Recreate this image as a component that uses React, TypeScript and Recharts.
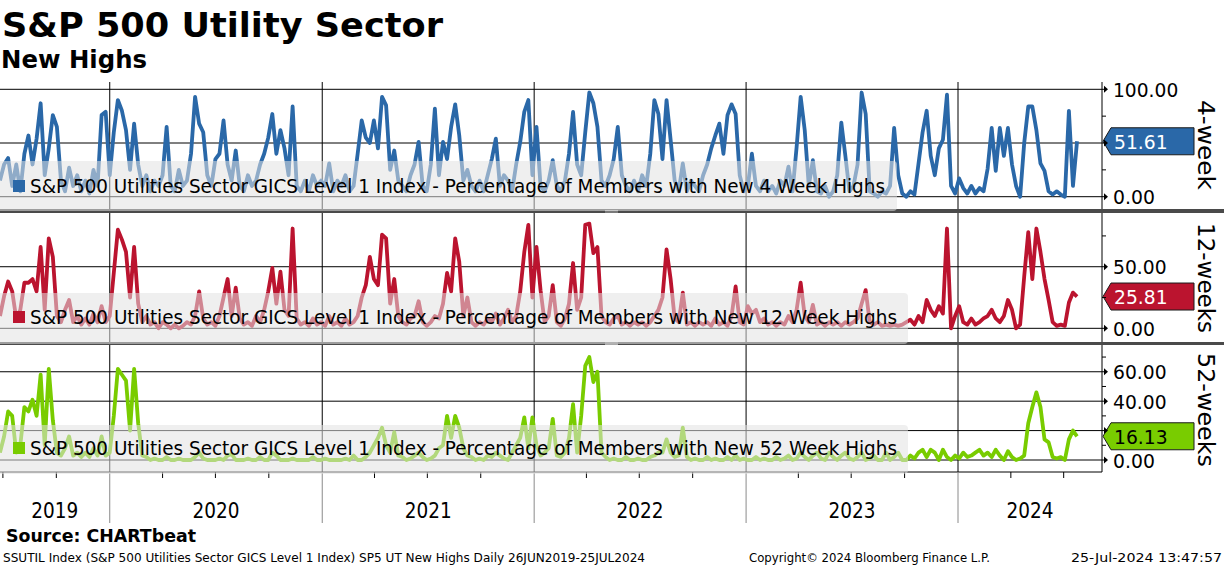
import React from "react";
import { LineChart, Line, XAxis, YAxis, ReferenceLine, ReferenceDot } from "recharts";

// weekly samples starting 26JUN2019, last point = 25JUL2024
const START_DATE = "2019-06-26";
const END_DATE = "2024-09-05"; // right edge of the time axis

const yearStarts = ["2020-01-01", "2021-01-01", "2022-01-01", "2023-01-01", "2024-01-01"];
const yearLabels = ["2019", "2020", "2021", "2022", "2023", "2024"];
const quarterStarts = [
  "2019-07-01", "2019-10-01", "2020-01-01", "2020-04-01", "2020-07-01", "2020-10-01",
  "2021-01-01", "2021-04-01", "2021-07-01", "2021-10-01", "2022-01-01", "2022-04-01",
  "2022-07-01", "2022-10-01", "2023-01-01", "2023-04-01", "2023-07-01", "2023-10-01",
  "2024-01-01", "2024-04-01", "2024-07-01",
];

const highs4w = [
  15, 30, 36, 10, 30, 5, 40, 57, 30, 54,
  87, 20, 45, 76, 65, 15, 5, 27, 10, 20,
  5, 15, 3, 25, 10, 76, 79, 20, 60, 90,
  80, 62, 25, 68, 30, 10, 20, 5, 15, 10,
  20, 65, 10, 5, 25, 10, 15, 40, 93, 68,
  60, 20, 10, 35, 40, 71, 30, 15, 43, 10,
  5, 20, 10, 15, 30, 40, 55, 77, 40, 62,
  45, 20, 84, 10, 5, 15, 5, 20, 10, 15,
  10, 31, 5, 15, 10, 20, 5, 10, 40, 71,
  55, 50, 71, 45, 93, 85, 25, 43, 15, 10,
  5, 20, 30, 51, 10, 5, 30, 82, 20, 51,
  35, 65, 86, 57, 15, 25, 10, 5, 15, 5,
  20, 35, 54, 10, 20, 15, 5, 30, 51, 79,
  90, 20, 65, 10, 5, 15, 34, 10, 5, 15,
  40, 79, 30, 20, 60, 97, 87, 65, 15, 10,
  20, 35, 65, 20, 10, 5, 15, 5, 20, 10,
  40, 90, 77, 35, 90, 53, 15, 5, 31, 5,
  15, 10, 5, 20, 30, 45, 57, 68, 40, 76,
  86, 77, 20, 5, 10, 40, 10, 5, 15, 5,
  10, 3, 15, 10, 28, 5, 46, 93, 62, 10,
  34, 5, 3, 10, 0, 5, 20, 69, 38, 5,
  10, 30, 97, 77, 5, 3, 0, 5, 3, 10,
  64, 20, 3, 0, 5, 2, 31, 60, 80, 38,
  20, 45, 53, 95, 10, 3, 17, 8, 3, 10,
  3, 8, 5, 26, 64, 24, 64, 38, 64, 30,
  10, 0, 50, 84, 84, 62, 31, 24, 5, 2,
  5, 2, 0, 80, 10, 51.61,
];

const highs12w = [
  10, 26, 38, 30, 8, 15, 37, 37, 40, 30,
  66, 15, 73, 58, 10, 5, 15, 23, 5, 10,
  3, 8, 3, 12, 5, 18, 5, 10, 45, 80,
  72, 62, 25, 66, 20, 5, 10, 3, 5, 0,
  5, 3, 0, 3, 0, 2, 5, 3, 10, 30,
  8, 3, 5, 2, 10, 25, 40, 10, 33, 8,
  3, 5, 2, 10, 5, 15, 30, 49, 20, 46,
  15, 10, 81, 8, 3, 5, 2, 8, 3, 5,
  2, 10, 3, 5, 2, 8, 3, 5, 10, 25,
  35, 58, 40, 35, 76, 73, 20, 40, 10, 5,
  3, 8, 10, 22, 5, 2, 5, 10, 8, 20,
  45, 30, 73, 54, 10, 25, 5, 2, 5, 3,
  8, 5, 12, 3, 8, 15, 5, 10, 30, 62,
  84, 25, 66, 31, 5, 10, 35, 5, 2, 8,
  20, 53, 15, 25, 84, 85, 61, 66, 10, 5,
  3, 8, 10, 3, 5, 2, 5, 3, 5, 2,
  5, 10, 15, 25, 64, 40, 8, 5, 29, 3,
  5, 2, 5, 3, 5, 2, 8, 3, 5, 2,
  10, 34, 5, 3, 18, 12, 15, 5, 8, 3,
  5, 2, 5, 3, 10, 5, 15, 37, 10, 5,
  19, 3, 5, 2, 5, 3, 5, 2, 5, 3,
  5, 8, 20, 31, 5, 3, 5, 2, 3, 2,
  3, 2, 3, 5, 7, 3, 10, 5, 23, 15,
  10, 18, 12, 81, 0, 10, 18, 5, 3, 8,
  3, 5, 8, 10, 15, 8, 5, 10, 23, 15,
  0, 3, 42, 78, 40, 81, 62, 40, 23, 5,
  2, 3, 2, 21, 29, 25.81,
];

const highs52w = [
  5, 16, 33, 30, 5, 10, 36, 33, 41, 30,
  58, 10, 62, 27, 5, 3, 8, 16, 3, 5,
  2, 5, 2, 8, 3, 16, 3, 5, 30, 62,
  58, 54, 20, 62, 25, 3, 2, 0, 1, 0,
  0, 2, 0, 0, 1, 0, 0, 0, 2, 5,
  1, 0, 0, 0, 1, 0, 3, 4, 0, 0,
  0, 1, 0, 0, 2, 0, 0, 5, 3, 0,
  0, 0, 1, 0, 0, 0, 0, 2, 0, 0,
  1, 0, 0, 0, 0, 1, 0, 3, 0, 0,
  2, 5, 10, 15, 22, 10, 5, 19, 3, 2,
  0, 1, 3, 5, 2, 0, 1, 3, 8, 10,
  30, 15, 30, 22, 8, 3, 2, 0, 1, 0,
  3, 2, 5, 3, 1, 0, 5, 10, 15, 29,
  8, 29, 10, 3, 5, 8, 28, 3, 2, 5,
  15, 38, 5, 30, 64, 70, 53, 60, 5, 2,
  0, 1, 0, 0, 2, 0, 0, 1, 0, 0,
  2, 3, 5, 5, 14, 5, 2, 3, 22, 2,
  0, 1, 0, 0, 2, 0, 1, 0, 0, 2,
  0, 3, 0, 1, 0, 0, 2, 0, 1, 0,
  0, 2, 0, 1, 3, 0, 1, 5, 2, 0,
  3, 5, 1, 0, 5, 2, 0, 3, 5, 1,
  0, 2, 5, 0, 1, 3, 0, 0, 5, 0,
  2, 5, 0, 0, 3, 1, 5, 7, 2, 7,
  5, 0, 7, 2, 0, 3, 1, 5, 2, 3,
  5, 7, 3, 5, 2, 7, 3, 0, 6, 2,
  0, 1, 3, 25, 36, 46, 36, 14, 12, 2,
  1, 2, 0, 14, 20, 16.13,
];

const toWeek = (d: string) => (Date.parse(d) - Date.parse(START_DATE)) / (7 * 86400000);
const X_MAX = toWeek(END_DATE);
const yearStartWeeks = yearStarts.map(toWeek);
const quarterWeeks = quarterStarts.map(toWeek);
const bounds = [0, ...yearStartWeeks, X_MAX];
const labelWeeks = yearLabels.map((_, i) => (bounds[i] + bounds[i + 1]) / 2);

const data = highs4w.map((v, i) => ({ w: i, v4: v, v12: highs12w[i], v52: highs52w[i] }));

const FONT = "'DejaVu Sans', Verdana, sans-serif";

const numWidth = (s: string) => {
  let w = 0;
  for (const c of s) w += c === "." ? 6.8 : 11.7;
  return w;
};

const panels = [
  {
    key: "v4", series: highs4w, color: "#2a68a8", textColor: "#fff",
    top: 82, height: 127, domain: [-11.45, 106.8],
    ticks: [0, 25, 50, 75, 100], arrows: [0, 50, 100], labels: [0, 100],
    side: "4-week", sideY: 100, sideLen: 90,
    legend: "S&P 500 Utilities Sector GICS Level 1 Index - Percentage of Members with New 4 Week Highs",
    legendW: 855, boxTop: 161, boxRight: 897, legendBase: 193,
  },
  {
    key: "v12", series: highs12w, color: "#bb142f", textColor: "#fff",
    top: 213, height: 129, domain: [-11.1, 93.6],
    ticks: [0, 25, 50, 75], arrows: [0, 50], labels: [0, 50],
    side: "12-weeks", sideY: 223, sideLen: 110,
    legend: "S&P 500 Utilities Sector GICS Level 1 Index - Percentage of Members with New 12 Week Highs",
    legendW: 867, boxTop: 293, boxRight: 908, legendBase: 324,
  },
  {
    key: "v52", series: highs52w, color: "#79cc00", textColor: "#000",
    top: 345, height: 127, domain: [-8.16, 78.2],
    ticks: [0, 10, 20, 30, 40, 50, 60, 70], arrows: [0, 20, 40, 60], labels: [0, 40, 60],
    side: "52-weeks", sideY: 353, sideLen: 114,
    legend: "S&P 500 Utilities Sector GICS Level 1 Index - Percentage of Members with New 52 Week Highs",
    legendW: 867, boxTop: 425, boxRight: 908, legendBase: 455,
  },
];

const AXIS_H = 52;
const PAD_TOP = 12; // room above each pane so the top tick label is not clipped

function makeYTick(arrows: number[], labels: number[]) {
  return (props: any) => {
    const { x, y, payload } = props;
    const v = payload.value;
    if (arrows.includes(v)) {
      const txt = v.toFixed(2);
      return (
        <g>
          <line x1={x} x2={x + 4} y1={y} y2={y} stroke="#000" />
          <polygon points={`${x + 2},${y - 3.5} ${x + 6},${y} ${x + 2},${y + 3.5}`} fill="#000" />
          {labels.includes(v) && (
            <text x={x + 11} y={y + 7.5} fontSize={20} fontFamily={FONT} fill="#000"
              textLength={numWidth(txt)} lengthAdjust="spacingAndGlyphs">{txt}</text>
          )}
        </g>
      );
    }
    return <line x1={x} x2={x + 4} y1={y} y2={y} stroke="#000" />;
  };
}

const near = (arr: number[], v: number) => arr.some((a) => Math.abs(a - v) < 1e-6);

function XTick(props: any) {
  const { x, y, payload } = props;
  const v = payload.value;
  const li = labelWeeks.findIndex((a) => Math.abs(a - v) < 1e-6);
  if (li >= 0) {
    return (
      <text x={x} y={y + 46} textAnchor="middle" fontSize={21} fontFamily={FONT} fill="#000"
        textLength={47} lengthAdjust="spacingAndGlyphs">{yearLabels[li]}</text>
    );
  }
  if (near(yearStartWeeks, v)) {
    return <line x1={x} x2={x} y1={y} y2={y + 51} stroke="#8a8a8a" />;
  }
  return <line x1={x} x2={x} y1={y} y2={y + 6} stroke="#000" />;
}

function Badge({ cx, cy, color, textColor, value }: any) {
  const txt = value.toFixed(2);
  return (
    <g>
      <polygon
        points={`${cx + 1},${cy} ${cx + 9},${cy - 13.5} ${cx + 92},${cy - 13.5} ${cx + 92},${cy + 13.5} ${cx + 9},${cy + 13.5}`}
        fill={color} stroke="#1a1a1a" strokeWidth={1}
      />
      <text x={cx + 12} y={cy + 7.5} fontSize={20} fontFamily={FONT} fill={textColor}
        textLength={numWidth(txt)} lengthAdjust="spacingAndGlyphs">{txt}</text>
    </g>
  );
}

function Panel({ p, withAxis }: { p: (typeof panels)[number]; withAxis: boolean }) {
  const last = p.series[p.series.length - 1];
  const h = PAD_TOP + p.height + (withAxis ? AXIS_H : 0);
  return (
    <div style={{ position: "absolute", left: 0, top: p.top - PAD_TOP, width: 1224, height: h }}>
      <LineChart width={1224} height={h} data={data} margin={{ top: PAD_TOP, right: 0, left: 0, bottom: 0 }}>
        <XAxis
          dataKey="w" type="number" domain={[0, X_MAX]} allowDataOverflow
          hide={!withAxis} height={AXIS_H}
          ticks={[...quarterWeeks, ...labelWeeks].sort((a, b) => a - b)}
          interval={0} tick={<XTick />} tickLine={false} tickSize={0} tickMargin={0}
          axisLine={{ stroke: "#000" }}
        />
        <YAxis
          yAxisId="r" orientation="right" width={122} type="number"
          domain={p.domain} allowDataOverflow ticks={p.ticks} interval={0}
          tick={makeYTick(p.arrows, p.labels)} tickLine={false} tickSize={0} tickMargin={0}
          axisLine={{ stroke: "#000" }}
        />
        {p.arrows.map((v) => (
          <ReferenceLine key={"h" + v} yAxisId="r" y={v} stroke="#000" strokeWidth={1} />
        ))}
        {yearStartWeeks.map((w) => (
          <ReferenceLine key={"v" + w} yAxisId="r" x={w} stroke="#000" strokeWidth={1} />
        ))}
        <Line
          yAxisId="r" dataKey={p.key} type="linear" stroke={p.color} strokeWidth={3.8}
          dot={false} isAnimationActive={false} strokeLinejoin="round"
        />
        <ReferenceDot
          yAxisId="r" x={X_MAX} y={last} ifOverflow="visible"
          shape={(s: any) => <Badge cx={s.cx} cy={s.cy} color={p.color} textColor={p.textColor} value={last} />}
        />
      </LineChart>
    </div>
  );
}

export default function App() {
  return (
    <div style={{ position: "absolute", left: 0, top: 0, width: 1224, height: 566, background: "#fff", overflow: "hidden", fontFamily: FONT }}>
      {panels.map((p, i) => (
        <Panel key={p.key} p={p} withAxis={i === panels.length - 1} />
      ))}
      <svg width={1224} height={566} style={{ position: "absolute", left: 0, top: 0, pointerEvents: "none" }}>
        <rect x={0} y={0} width={1224} height={70} fill="#fff" />
        <text x={2} y={37} fontSize={34} fontWeight="bold" fontFamily={FONT} textLength={441} lengthAdjust="spacingAndGlyphs">S&amp;P 500 Utility Sector</text>
        <text x={1} y={68} fontSize={25} fontWeight="bold" fontFamily={FONT} textLength={146} lengthAdjust="spacingAndGlyphs">New Highs</text>

        {/* pane separators */}
        <rect x={0} y={209} width={1224} height={4} fill="#4a4a4a" />
        <rect x={0} y={342} width={1224} height={3} fill="#4a4a4a" />
        <line x1={605} x2={618} y1={210.5} y2={210.5} stroke="#aaa" />
        <line x1={605} x2={618} y1={212} y2={212} stroke="#aaa" />
        <line x1={605} x2={618} y1={343} y2={343} stroke="#aaa" />
        <line x1={605} x2={618} y1={344.5} y2={344.5} stroke="#aaa" />

        {panels.map((p) => (
          <g key={"lg" + p.key}>
            <rect x={-4} y={p.boxTop} width={p.boxRight + 4} height={p.top + p.height - p.boxTop + 2} rx={4}
              fill="#e2e2e2" fillOpacity={0.55} />
            <rect x={13} y={p.legendBase - 13} width={12} height={12} fill={p.color} />
            <text x={30} y={p.legendBase} fontSize={19.5} fontFamily={FONT} fill="#000"
              textLength={p.legendW} lengthAdjust="spacingAndGlyphs">{p.legend}</text>
            <text transform={`translate(1198, ${p.sideY}) rotate(90)`} fontSize={23} fontFamily={FONT} fill="#000"
              textLength={p.sideLen} lengthAdjust="spacingAndGlyphs">{p.side}</text>
          </g>
        ))}

        <text x={6} y={542} fontSize={17} fontWeight="bold" fontFamily={FONT} textLength={190} lengthAdjust="spacingAndGlyphs">Source: CHARTbeat</text>
        <text x={3} y={562} fontSize={12} fontFamily={FONT} textLength={642} lengthAdjust="spacingAndGlyphs">SSUTIL Index (S&amp;P 500 Utilities Sector GICS Level 1 Index) SP5 UT New Highs  Daily 26JUN2019-25JUL2024</text>
        <text x={749} y={562} fontSize={12} fontFamily={FONT} textLength={241} lengthAdjust="spacingAndGlyphs">Copyright© 2024 Bloomberg Finance L.P.</text>
        <text x={1071} y={562} fontSize={12} fontFamily={FONT} textLength={151} lengthAdjust="spacingAndGlyphs">25-Jul-2024 13:47:57</text>
      </svg>
    </div>
  );
}
